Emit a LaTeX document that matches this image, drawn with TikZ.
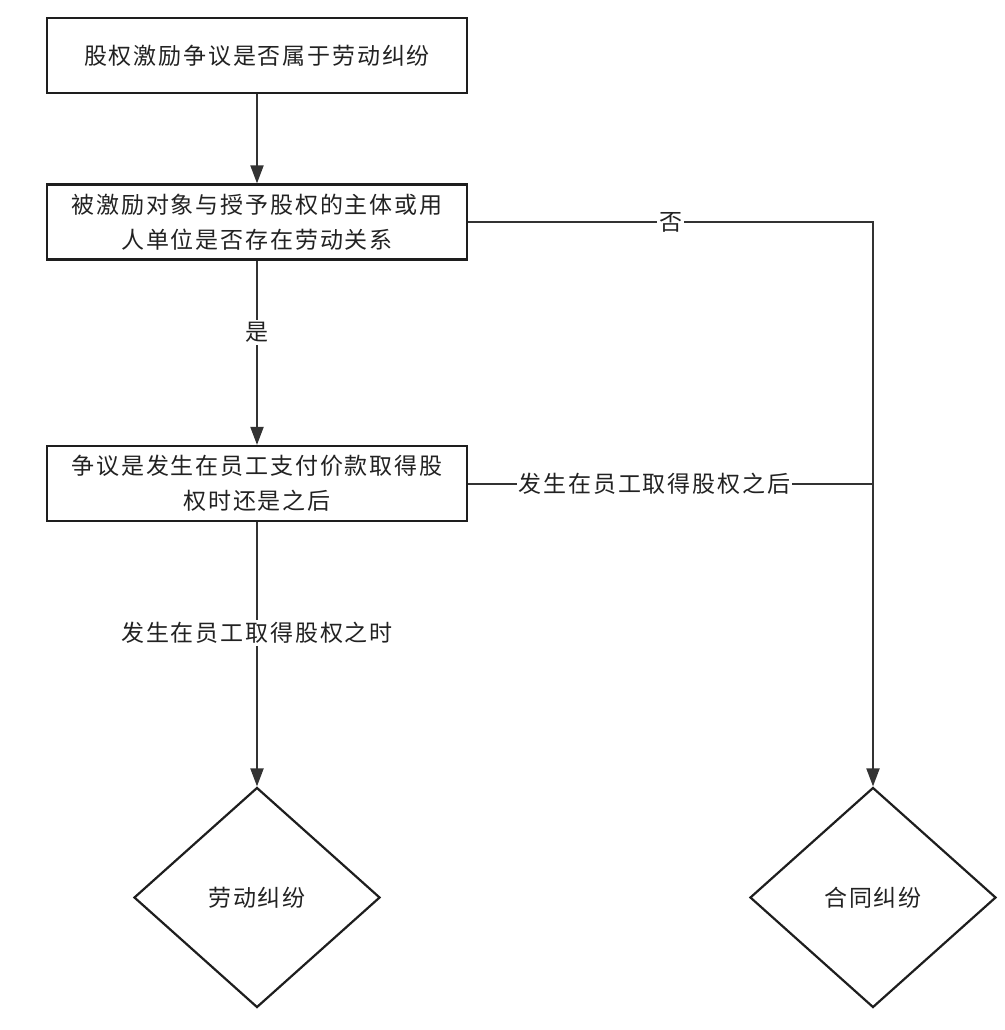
\documentclass[tikz,border=0pt]{standalone}
\usepackage{fontspec}
\setmainfont{Noto Sans CJK SC}[LetterSpace=8]
\usetikzlibrary{shapes.geometric,arrows.meta}
\definecolor{ln}{HTML}{333333}
\definecolor{bd}{HTML}{1E1E1E}
\definecolor{tx}{HTML}{222222}
\begin{document}
\begin{tikzpicture}[x=1pt,y=-1pt,
  font=\fontsize{23}{35}\selectfont, text=tx,
  box/.style={draw=bd, line width=2.2pt, minimum width=420pt, minimum height=75pt, inner sep=0pt, align=center},
  dia/.style={draw=bd, diamond, line width=2.2pt, minimum width=246pt, minimum height=220pt, inner sep=0pt},
  conn/.style={draw=ln, line width=2pt},
  arr/.style={conn, -{Triangle[length=18pt,width=13pt]}},
  lbl/.style={fill=white, inner sep=2pt, text=tx}]
\useasboundingbox (0,0) rectangle (1004,1030);
\node[box] (b1) at (257,55.5) {股权激励争议是否属于劳动纠纷};
\node[box] (b2) at (257,222) {被激励对象与授予股权的主体或用\\人单位是否存在劳动关系};
\node[box] (b3) at (257,483.5) {争议是发生在员工支付价款取得股\\权时还是之后};
\node[dia] (d1) at (257,897.5) {劳动纠纷};
\node[dia] (d2) at (873,897.5) {合同纠纷};
\draw[arr] (b1.south) -- (b2.north);
\draw[arr] (b2.south) -- node[lbl, pos=0.39] {是} (b3.north);
\draw[arr] (b3.south) -- node[lbl, pos=0.42] {发生在员工取得股权之时} (d1.north);
\draw[arr] (b2.east) -- node[lbl, pos=0.5] {否} (b2.east -| d2.north) -- (d2.north);
\draw[conn] (b3.east) -- node[lbl, pos=0.46] {发生在员工取得股权之后} (b3.east -| d2.north);
\end{tikzpicture}
\end{document}
